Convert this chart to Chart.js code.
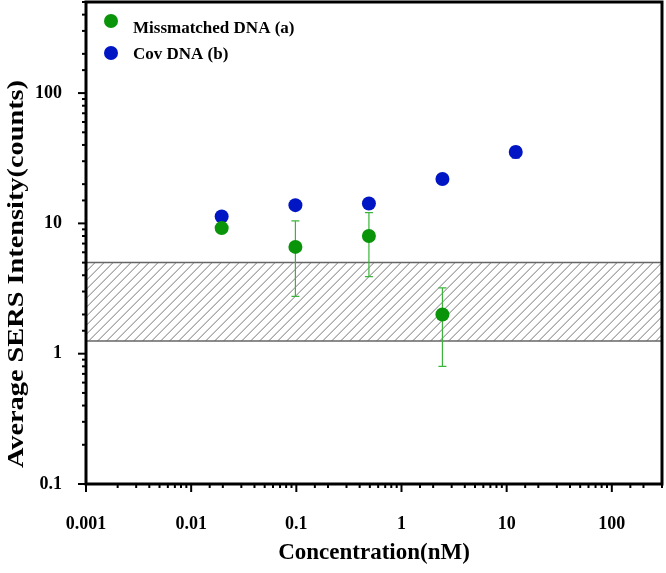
<!DOCTYPE html>
<html>
<head>
<meta charset="utf-8">
<script src="https://cdn.jsdelivr.net/npm/chart.js@4.4.1/dist/chart.umd.min.js"></script>
<style>
  html, body { margin: 0; padding: 0; background: #fff; }
  #wrap { width: 666px; height: 573px; }
</style>
</head>
<body>
<div id="wrap"><canvas id="grafico"></canvas></div>
<script>
// concentracoes (nM) e medias
const concentracoes = [0.0195, 0.098, 0.49, 2.45, 12.2];
const mismatched = [9.2, 6.6, 8.0, 2.0];
const mismatchedErro = [0.5, 3.85, 4.1, 1.2];
const cov = [11.3, 13.8, 14.2, 21.9, 35.3];
const covErro = [0.8, 0.6, 0.8, 1.2, 3.5];
const nomes = ['Missmatched DNA (a)', 'Cov DNA (b)'];
const bandaLimite = [1.25, 5];
const xTickLabels = ['0.001', '0.01', '0.1', '1', '10', '100'];
const yTickLabels = ['0.1', '1', '10', '100'];
const tituloY = 'Average SERS Intensity(counts)';

const FONTE = '"Liberation Serif", "Times New Roman", serif';
const VERDE = '#0a940a';
const AZUL = '#0016c4';

function rotuloDecada(valor, lista) {
  const exp = Math.log10(valor);
  if (Math.abs(exp - Math.round(exp)) > 1e-6) return '';
  const txt = lista.find(t => Math.abs(Math.log10(parseFloat(t)) - exp) < 1e-6);
  return txt || '';
}

// faixa hachurada (fundo)
const faixa = {
  id: 'faixa',
  beforeDatasetsDraw(chart) {
    const { ctx, chartArea: a, scales } = chart;
    const yTop = scales.y.getPixelForValue(bandaLimite[1]);
    const yBot = scales.y.getPixelForValue(bandaLimite[0]);
    ctx.save();
    ctx.beginPath();
    ctx.rect(a.left, yTop, a.right - a.left, yBot - yTop);
    ctx.clip();
    ctx.strokeStyle = '#555';
    ctx.lineWidth = 0.8;
    const h = yBot - yTop;
    for (let x = a.left - h; x < a.right + h; x += 9) {
      ctx.beginPath();
      ctx.moveTo(x, yBot);
      ctx.lineTo(x + h, yTop);
      ctx.stroke();
    }
    ctx.restore();
    ctx.save();
    ctx.strokeStyle = '#666';
    ctx.lineWidth = 1.5;
    [yTop, yBot].forEach(y => {
      ctx.beginPath();
      ctx.moveTo(a.left, y);
      ctx.lineTo(a.right, y);
      ctx.stroke();
    });
    ctx.restore();
  }
};

// barras de erro
const barrasErro = {
  id: 'barrasErro',
  beforeDatasetsDraw(chart) {
    const { ctx, scales } = chart;
    const erros = [mismatchedErro, covErro];
    const cores = ['#3cb43c', AZUL];
    chart.data.datasets.forEach((ds, i) => {
      ctx.save();
      ctx.strokeStyle = cores[i];
      ctx.lineWidth = 1.2;
      ds.data.forEach((p, j) => {
        const x = scales.x.getPixelForValue(p.x);
        const y1 = scales.y.getPixelForValue(p.y + erros[i][j]);
        const y2 = scales.y.getPixelForValue(Math.max(p.y - erros[i][j], 0.101));
        ctx.beginPath();
        ctx.moveTo(x, y1); ctx.lineTo(x, y2);
        ctx.moveTo(x - 4, y1); ctx.lineTo(x + 4, y1);
        ctx.moveTo(x - 4, y2); ctx.lineTo(x + 4, y2);
        ctx.stroke();
      });
      ctx.restore();
    });
  }
};

// moldura, tracos dos eixos, titulo y e legenda
const moldura = {
  id: 'moldura',
  afterDraw(chart) {
    const { ctx, chartArea: a, scales } = chart;
    ctx.save();
    ctx.strokeStyle = '#000';
    ctx.lineWidth = 3;
    ctx.strokeRect(a.left, a.top, a.right - a.left, a.bottom - a.top);
    ctx.lineWidth = 2;
    scales.x.ticks.forEach(t => {
      const x = scales.x.getPixelForValue(t.value);
      const major = rotuloDecada(t.value, xTickLabels) !== '';
      ctx.beginPath();
      ctx.moveTo(x, a.bottom);
      ctx.lineTo(x, a.bottom + (major ? 8 : 4));
      ctx.stroke();
    });
    scales.y.ticks.forEach(t => {
      const y = scales.y.getPixelForValue(t.value);
      const major = rotuloDecada(t.value, yTickLabels) !== '';
      ctx.beginPath();
      ctx.moveTo(a.left, y);
      ctx.lineTo(a.left - (major ? 8 : 4), y);
      ctx.stroke();
    });

    // titulo do eixo y (esticado no comprimento como no original)
    ctx.save();
    ctx.translate(17, 274);
    ctx.rotate(-Math.PI / 2);
    ctx.scale(1.18, 1);
    ctx.font = 'bold 24px ' + FONTE;
    ctx.fillStyle = '#000';
    ctx.textAlign = 'center';
    ctx.textBaseline = 'middle';
    ctx.fillText(tituloY, 0, 0);
    ctx.restore();

    // legenda
    ctx.font = 'bold 17px ' + FONTE;
    ctx.textBaseline = 'alphabetic';
    chart.data.datasets.forEach((ds, i) => {
      const cy = [21, 53][i];
      ctx.fillStyle = ds.backgroundColor;
      ctx.beginPath();
      ctx.arc(111, cy, 7, 0, Math.PI * 2);
      ctx.fill();
      ctx.fillStyle = '#000';
      ctx.fillText(ds.label, 133, [33, 59][i]);
    });
    ctx.restore();
  }
};

function semPadding(scale) {
  scale.paddingTop = 0;
  scale.paddingBottom = 0;
  scale.paddingLeft = 0;
  scale.paddingRight = 0;
}

const ctx = document.getElementById('grafico').getContext('2d');
new Chart(ctx, {
  type: 'scatter',
  data: {
    datasets: [
      {
        label: nomes[0],
        data: mismatched.map((v, i) => ({ x: concentracoes[i], y: v })),
        backgroundColor: VERDE,
        pointRadius: 7,
        pointBorderWidth: 0
      },
      {
        label: nomes[1],
        data: cov.map((v, i) => ({ x: concentracoes[i], y: v })),
        backgroundColor: AZUL,
        pointRadius: 7,
        pointBorderWidth: 0
      }
    ]
  },
  options: {
    responsive: true,
    maintainAspectRatio: false,
    animation: false,
    layout: { autoPadding: false, padding: { top: 2, right: 4, left: 0, bottom: 0 } },
    plugins: { legend: { display: false }, tooltip: { enabled: false } },
    scales: {
      x: {
        type: 'logarithmic',
        min: 0.001,
        max: 300,
        grid: { display: false, drawTicks: false },
        border: { display: false },
        afterFit(scale) { scale.height = 89; semPadding(scale); },
        ticks: {
          autoSkip: false,
          maxRotation: 0,
          padding: 30,
          color: '#000',
          font: { family: FONTE, size: 18, weight: 'bold' },
          callback: v => rotuloDecada(v, xTickLabels)
        },
        title: {
          display: true,
          text: 'Concentration(nM)',
          color: '#000',
          font: { family: FONTE, size: 23, weight: 'bold' },
          padding: { top: 0, bottom: 6 }
        }
      },
      y: {
        type: 'logarithmic',
        min: 0.1,
        max: 500,
        grid: { display: false, drawTicks: false },
        border: { display: false },
        afterFit(scale) { scale.width = 86; semPadding(scale); },
        ticks: {
          autoSkip: false,
          padding: 24,
          color: '#000',
          font: { family: FONTE, size: 18, weight: 'bold' },
          callback: v => rotuloDecada(v, yTickLabels)
        },
        title: { display: false }
      }
    }
  },
  plugins: [faixa, barrasErro, moldura]
});
</script>
</body>
</html>
